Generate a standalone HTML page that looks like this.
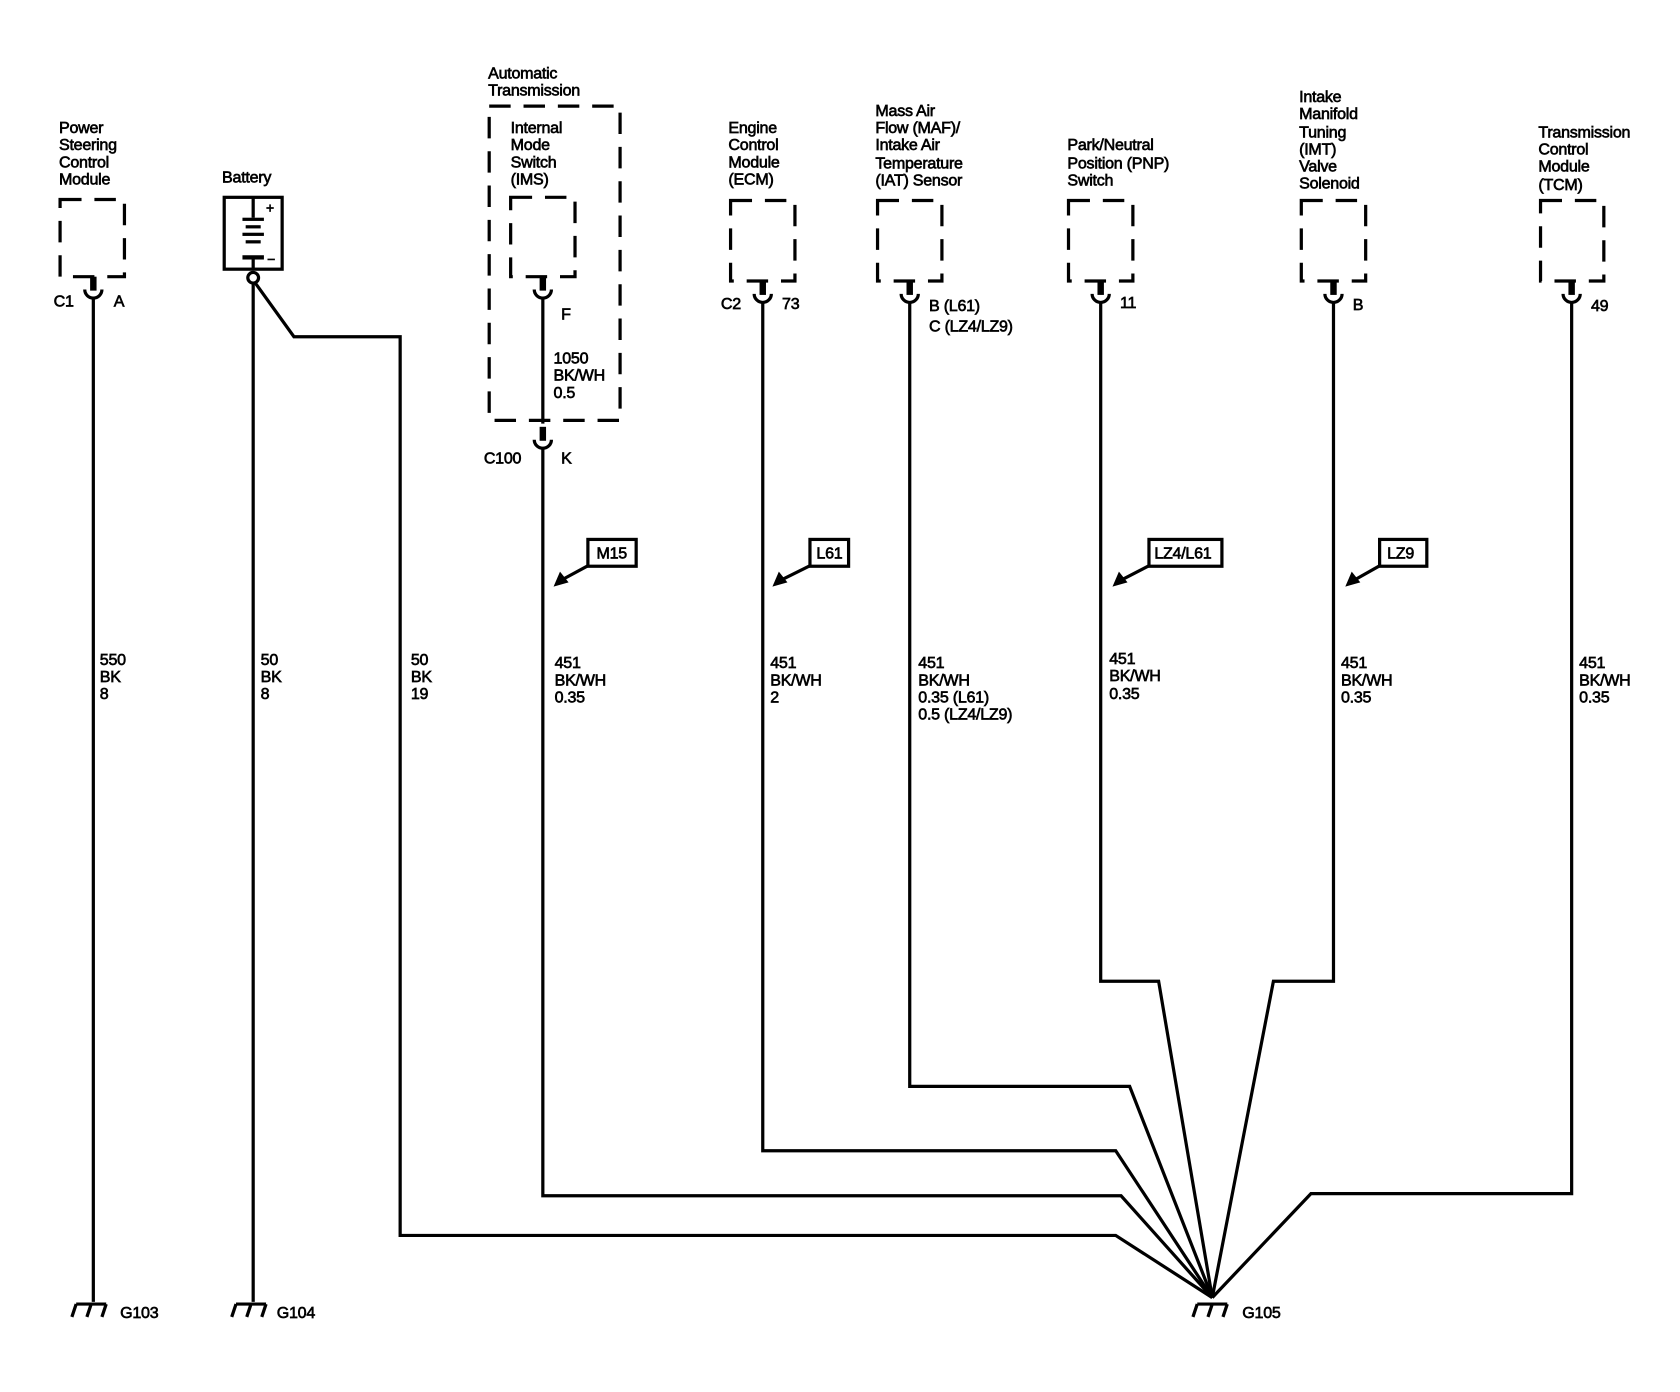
<!DOCTYPE html>
<html><head><meta charset="utf-8"><style>
html,body{margin:0;padding:0;background:#fff}
svg{display:block}
text{font-family:"Liberation Sans",Arial,sans-serif;font-size:15px;fill:#000;stroke:#000;stroke-width:0.6;letter-spacing:-0.25px}
.w{fill:none;stroke:#000;stroke-width:3}
.d{fill:none;stroke:#000;stroke-width:3;stroke-dasharray:20 12}
.t{fill:#000;stroke:none}
</style></head><body>
<svg width="1680" height="1392" viewBox="0 0 1566 1298" preserveAspectRatio="none" xmlns="http://www.w3.org/2000/svg">
<defs>
<g id="conn"><rect class="t" x="-3" y="0" width="6" height="13"/><path class="w" d="M-8,12 A8,8 0 0 0 8,12"/></g>
<g id="gnd"><path class="w" d="M-16,0 H12 M-16,0 L-20,12 M-2,0 L-6,12 M12,0 L8,12"/></g>
</defs>

<!-- PSCM -->
<text x="55" y="124">Power</text><text x="55" y="140">Steering</text><text x="55" y="156">Control</text><text x="55" y="172">Module</text>
<rect class="d" x="56" y="186" width="60" height="72"/>
<use href="#conn" x="87" y="258"/>
<text x="50" y="286">C1</text><text x="106" y="286">A</text>
<path class="w" d="M87,278 V1214"/>
<text x="93" y="620">550</text><text x="93" y="636">BK</text><text x="93" y="652">8</text>
<use href="#gnd" x="87" y="1216"/><text x="112" y="1229">G103</text>

<!-- Battery -->
<text x="207" y="170">Battery</text>
<rect class="w" x="209" y="184" width="54" height="67"/>
<path class="w" d="M236,185 V203 M236,240 V251"/>
<rect class="t" x="226" y="203" width="20" height="3"/><rect class="t" x="229" y="210" width="14" height="3"/><rect class="t" x="226" y="217" width="20" height="3"/><rect class="t" x="229" y="224" width="14" height="3"/><rect class="t" x="226" y="238" width="20" height="4"/>
<text x="248" y="198" style="font-size:13px">+</text><text x="249" y="246" style="font-size:13px">−</text>
<circle class="w" cx="236" cy="259" r="5"/>
<path class="w" d="M236,264 V1214"/>
<path class="w" d="M238,264 L274,314 H373 V1152 H1040 L1130,1210"/>
<text x="243" y="620">50</text><text x="243" y="636">BK</text><text x="243" y="652">8</text>
<text x="383" y="620">50</text><text x="383" y="636">BK</text><text x="383" y="652">19</text>
<use href="#gnd" x="236" y="1216"/><text x="258" y="1229">G104</text>

<!-- Automatic transmission / IMS -->
<text x="455" y="73">Automatic</text><text x="455" y="89">Transmission</text>
<rect class="d" x="456" y="99" width="122" height="293"/>
<text x="476" y="124">Internal</text><text x="476" y="140">Mode</text><text x="476" y="156">Switch</text><text x="476" y="172">(IMS)</text>
<rect class="d" x="476" y="184" width="60" height="74"/>
<use href="#conn" x="506" y="258"/>
<text x="523" y="298">F</text>
<path class="w" d="M506,278 V395"/>
<text x="516" y="339">1050</text><text x="516" y="355">BK/WH</text><text x="516" y="371">0.5</text>
<use href="#conn" x="506" y="398"/>
<text x="451" y="432">C100</text><text x="523" y="432">K</text>
<path class="w" d="M506,418 V1115 H1045 L1130,1210"/>
<rect class="w" x="548" y="503" width="45" height="25"/><text x="556" y="521">M15</text>
<path class="w" d="M549,527 L525,540"/><path class="t" d="M516,547 L522,533 L530,543 Z"/>
<text x="517" y="623">451</text><text x="517" y="639">BK/WH</text><text x="517" y="655">0.35</text>

<!-- ECM -->
<text x="679" y="124">Engine</text><text x="679" y="140">Control</text><text x="679" y="156">Module</text><text x="679" y="172">(ECM)</text>
<rect class="d" x="681" y="187" width="60" height="75"/>
<use href="#conn" x="711" y="262"/>
<text x="672" y="288">C2</text><text x="729" y="288">73</text>
<path class="w" d="M711,282 V1073 H1040 L1130,1210"/>
<rect class="w" x="755" y="503" width="36" height="25"/><text x="761" y="521">L61</text>
<path class="w" d="M756,527 L730,540"/><path class="t" d="M720,547 L726,533 L734,543 Z"/>
<text x="718" y="623">451</text><text x="718" y="639">BK/WH</text><text x="718" y="655">2</text>

<!-- MAF -->
<text x="816" y="108">Mass Air</text><text x="816" y="124">Flow (MAF)/</text><text x="816" y="140">Intake Air</text><text x="816" y="157">Temperature</text><text x="816" y="173">(IAT) Sensor</text>
<rect class="d" x="818" y="187" width="60" height="75"/>
<use href="#conn" x="848" y="262"/>
<text x="866" y="290">B (L61)</text><text x="866" y="309">C (LZ4/LZ9)</text>
<path class="w" d="M848,282 V1013 H1053 L1130,1210"/>
<text x="856" y="623">451</text><text x="856" y="639">BK/WH</text><text x="856" y="655">0.35 (L61)</text><text x="856" y="671">0.5 (LZ4/LZ9)</text>

<!-- PNP -->
<text x="995" y="140">Park/Neutral</text><text x="995" y="157">Position (PNP)</text><text x="995" y="173">Switch</text>
<rect class="d" x="996" y="187" width="60" height="75"/>
<use href="#conn" x="1026" y="262"/>
<text x="1044" y="287">11</text>
<path class="w" d="M1026,282 V915 H1080 L1130,1210"/>
<rect class="w" x="1071" y="503" width="68" height="25"/><text x="1076" y="521">LZ4/L61</text>
<path class="w" d="M1072,527 L1047,540"/><path class="t" d="M1037,547 L1043,533 L1051,543 Z"/>
<text x="1034" y="619">451</text><text x="1034" y="635">BK/WH</text><text x="1034" y="652">0.35</text>

<!-- IMT -->
<text x="1211" y="95">Intake</text><text x="1211" y="111">Manifold</text><text x="1211" y="128">Tuning</text><text x="1211" y="144">(IMT)</text><text x="1211" y="160">Valve</text><text x="1211" y="176">Solenoid</text>
<rect class="d" x="1213" y="187" width="60" height="75"/>
<use href="#conn" x="1243" y="262"/>
<text x="1261" y="289">B</text>
<path class="w" d="M1243,282 V915 H1187 L1130,1210"/>
<rect class="w" x="1286" y="503" width="44" height="25"/><text x="1293" y="521">LZ9</text>
<path class="w" d="M1287,527 L1264,540"/><path class="t" d="M1254,547 L1260,533 L1268,543 Z"/>
<text x="1250" y="623">451</text><text x="1250" y="639">BK/WH</text><text x="1250" y="655">0.35</text>

<!-- TCM -->
<text x="1434" y="128">Transmission</text><text x="1434" y="144">Control</text><text x="1434" y="160">Module</text><text x="1434" y="177">(TCM)</text>
<rect class="d" x="1436" y="187" width="59" height="75"/>
<use href="#conn" x="1465" y="262"/>
<text x="1483" y="290">49</text>
<path class="w" d="M1465,282 V1113 H1222 L1130,1210"/>
<text x="1472" y="623">451</text><text x="1472" y="639">BK/WH</text><text x="1472" y="655">0.35</text>

<use href="#gnd" x="1132" y="1216"/><text x="1158" y="1229">G105</text>
</svg>
</body></html>
